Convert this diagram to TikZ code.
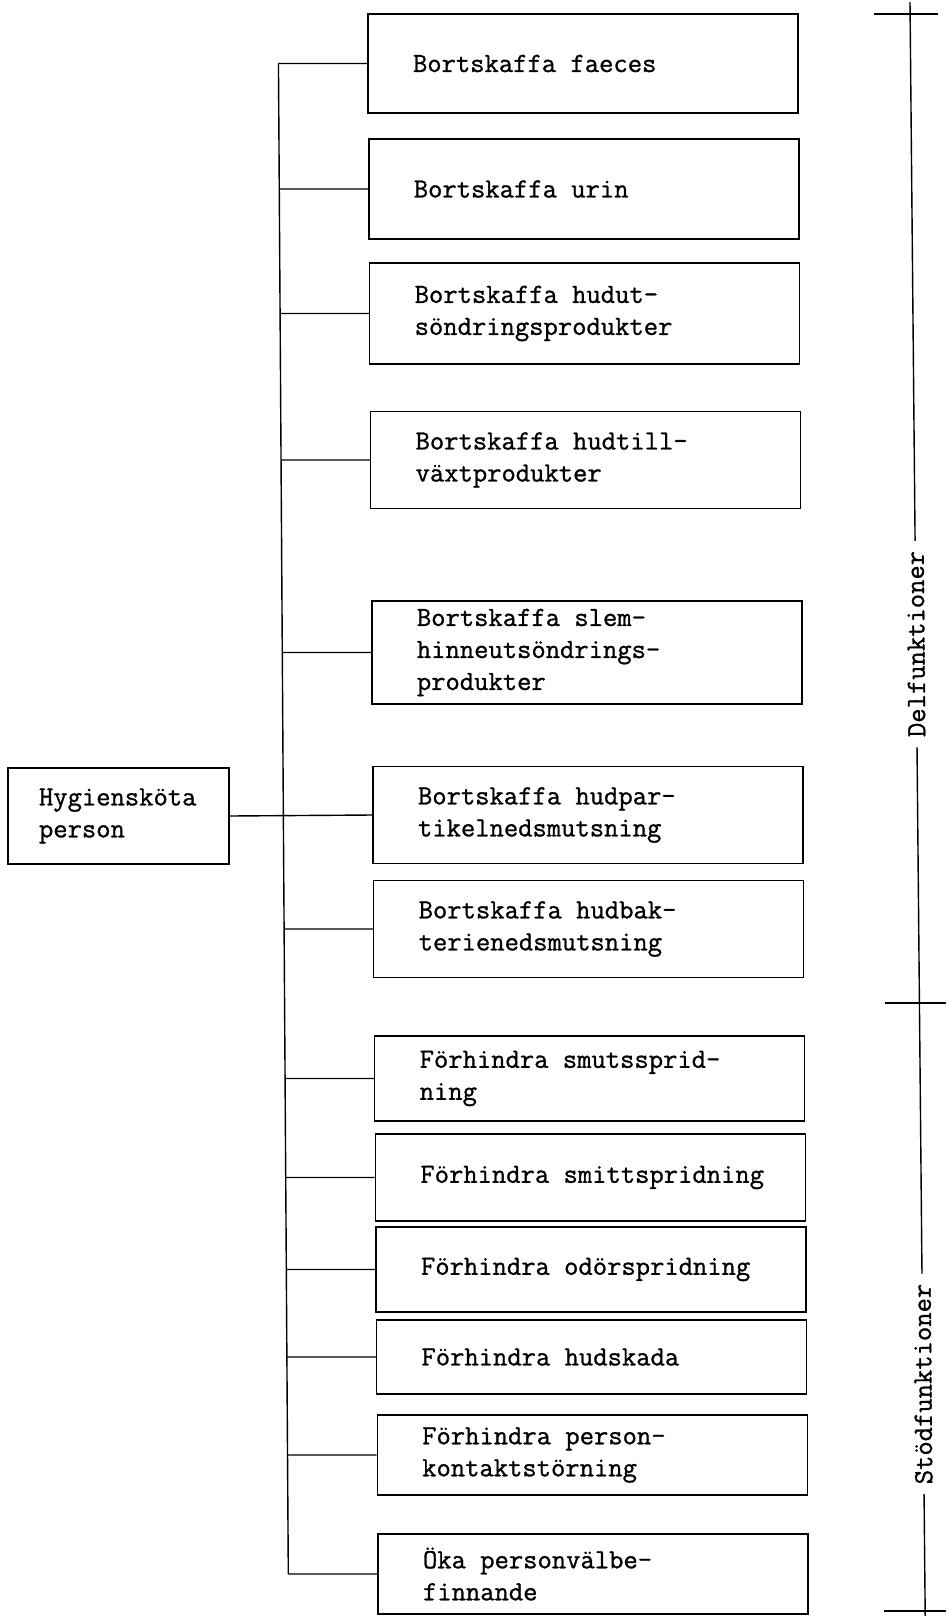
\documentclass[tikz,border=0pt]{standalone}
\usepackage{fontspec}
\newfontfamily\tw{Latin Modern Mono}[FakeBold=1]
\begin{document}
\begin{tikzpicture}[x=1pt,y=-1pt, line width=1.4pt,
  box/.style={draw, minimum width=430pt, inner sep=0pt},
  lbl/.style={font=\fontsize{27.8}{32}\selectfont\tw, align=left, anchor=west, inner sep=0pt},
  side/.style={font=\fontsize{27.8}{32}\selectfont\tw, rotate=90.5, fill=white, inner xsep=10pt, inner ysep=2pt}]
\useasboundingbox (0,0) rectangle (946,1616);
% boxes
\node[box, minimum height=99pt]  (b1)  at (583,63.5)  {};
\node[box, minimum height=100pt] (b2)  at (583.8,189) {};
\node[box, minimum height=101pt] (b3)  at (584.7,313.5){};
\node[box, minimum height=97pt]  (b4)  at (585.6,460) {};
\node[box, minimum height=103pt] (b5)  at (586.9,652.5){};
\node[box, minimum height=97pt]  (b6)  at (588.0,815) {};
\node[box, minimum height=97pt]  (b7)  at (588.7,929) {};
\node[box, minimum height=85pt]  (b8)  at (589.7,1078.5){};
\node[box, minimum height=87pt]  (b9)  at (590.4,1177.5){};
\node[box, minimum height=85pt]  (b10) at (591.0,1269.5){};
\node[box, minimum height=74pt]  (b11) at (591.5,1357) {};
\node[box, minimum height=80pt]  (b12) at (592.2,1455) {};
\node[box, minimum height=80pt]  (b13) at (593.0,1574) {};
% texts
\node[lbl] (t1)  at ([xshift=45pt]b1.west)  {Bortskaffa faeces};
\node[lbl] (t2)  at ([xshift=45pt]b2.west)  {Bortskaffa urin};
\node[lbl] (t3)  at ([xshift=45pt]b3.west)  {Bortskaffa hudut-\\söndringsprodukter};
\node[lbl] (t4)  at ([xshift=45pt]b4.west)  {Bortskaffa hudtill-\\växtprodukter};
\node[lbl] (t5)  at ([xshift=45pt]b5.west)  {Bortskaffa slem-\\hinneutsöndrings-\\produkter};
\node[lbl] (t6)  at ([xshift=45pt]b6.west)  {Bortskaffa hudpar-\\tikelnedsmutsning};
\node[lbl] (t7)  at ([xshift=45pt]b7.west)  {Bortskaffa hudbak-\\terienedsmutsning};
\node[lbl] (t8)  at ([xshift=45pt]b8.west)  {Förhindra smutssprid-\\ning};
\node[lbl] (t9)  at ([xshift=45pt]b9.west)  {Förhindra smittspridning};
\node[lbl] (t10) at ([xshift=45pt]b10.west) {Förhindra odörspridning};
\node[lbl] (t11) at ([xshift=45pt]b11.west) {Förhindra hudskada};
\node[lbl] (t12) at ([xshift=45pt]b12.west) {Förhindra person-\\kontaktstörning};
\node[lbl] (t13) at ([xshift=45pt]b13.west) {Öka personvälbe-\\finnande};
% root
\node[draw, minimum width=221pt, minimum height=96pt, inner sep=0pt] (root) at (118.5,816) {};
\node[lbl] (troot) at ([xshift=31pt]root.west) {Hygiensköta\\person};
% bus and branches
\coordinate (bustop) at (278.3,40);
\coordinate (busbot) at (288.5,1600);
\coordinate (bus1) at (intersection of b1.west--b1.east and bustop--busbot);
\coordinate (bus13) at (intersection of b13.west--b13.east and bustop--busbot);
\draw (bus1) -- (bus13);
\foreach \i in {1,2,3,4,5,7,8,9,10,11,12,13} {
  \draw (intersection of b\i.west--b\i.east and bustop--busbot) -- (b\i.west);
}
\draw (root.east) -- (b6.west);
% right bracket
\coordinate (rtop) at (910,2);
\coordinate (rbot) at (925.2,1616);
\coordinate (k1l) at (874,14);   \coordinate (k1r) at (938,14);
\coordinate (k2l) at (885,1003); \coordinate (k2r) at (946,1003);
\coordinate (k3l) at (884,1611); \coordinate (k3r) at (946,1611);
\draw (rtop) -- (rbot);
\draw (k1l) -- (k1r);
\draw (k2l) -- (k2r);
\draw (k3l) -- (k3r);
\node[side] (delf) at (916,644) {Delfunktioner};
\node[side] (stod) at (923,1384) {Stödfunktioner};
\end{tikzpicture}
\end{document}
